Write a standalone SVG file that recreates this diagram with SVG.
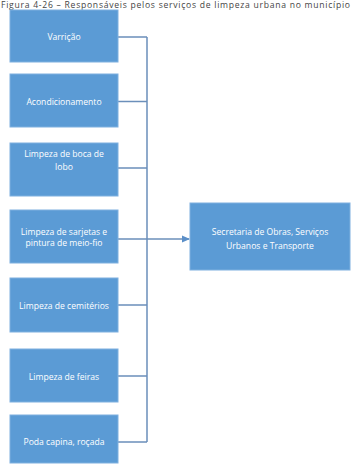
<svg xmlns="http://www.w3.org/2000/svg" width="352" height="466" viewBox="0 0 352 466">
<style>
.box{fill:#5b9bd5;stroke:#7fb0df;stroke-width:1}
.lbl{font-family:"Open Sans","Liberation Sans",sans-serif;font-size:8.6px;fill:#ffffff;text-anchor:middle}
.con{fill:none;stroke:#6b8fba;stroke-width:1.5}
.title{font-family:"Open Sans","Liberation Sans",sans-serif;font-size:8.6px;fill:#444}
</style>
<defs>
<marker id="ah" markerWidth="8" markerHeight="8" refX="7" refY="4" orient="auto" markerUnits="userSpaceOnUse">
<path d="M0,0.5 L8,4 L0,7.5 Z" fill="#5b8fc8"/>
</marker>
</defs>
<text class="title" x="1" y="7.5" textLength="349" lengthAdjust="spacing">Figura 4-26 – Responsáveis pelos serviços de limpeza urbana no município</text>
<g id="connectors">
<path class="con" d="M118,37 H147 M118,101.5 H147 M118,168 H147 M118,239 H147 M118,305 H147 M118,376 H147 M118,442 H147 M147,37 V442"/>
<path class="con" d="M147,239 H189" marker-end="url(#ah)"/>
</g>
<g id="n1"><rect class="box" x="10" y="10" width="108" height="52"/><text class="lbl" x="64" y="40">Varrição</text></g>
<g id="n2"><rect class="box" x="10" y="74" width="108" height="53"/><text class="lbl" x="64" y="104.5">Acondicionamento</text></g>
<g id="n3"><rect class="box" x="10" y="143" width="108" height="53"/><text class="lbl" x="64" y="157">Limpeza de boca de</text><text class="lbl" x="64" y="170">lobo</text></g>
<g id="n4"><rect class="box" x="10" y="210" width="108" height="53"/><text class="lbl" x="64" y="235">Limpeza de sarjetas e</text><text class="lbl" x="64" y="245.5">pintura de meio-fio</text></g>
<g id="n5"><rect class="box" x="10" y="278" width="108" height="54"/><text class="lbl" x="64" y="309">Limpeza de cemitérios</text></g>
<g id="n6"><rect class="box" x="10" y="349" width="108" height="53"/><text class="lbl" x="64" y="380">Limpeza de feiras</text></g>
<g id="n7"><rect class="box" x="10" y="415" width="108" height="48"/><text class="lbl" x="64" y="445">Poda capina, roçada</text></g>
<g id="n8"><rect class="box" x="190" y="203" width="160" height="67"/><text class="lbl" x="270" y="235">Secretaria de Obras, Serviços</text><text class="lbl" x="270" y="249">Urbanos e Transporte</text></g>
</svg>
